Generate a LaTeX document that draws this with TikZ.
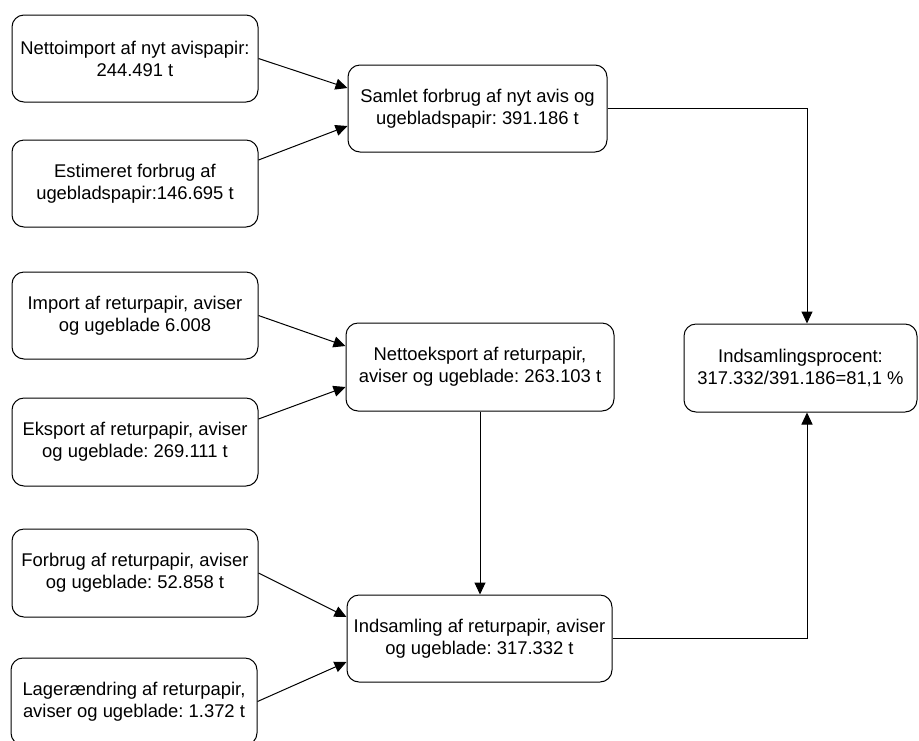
\documentclass[tikz,border=0pt]{standalone}
\usepackage{fontspec}
\setmainfont{Liberation Sans}
\usetikzlibrary{arrows.meta}
\frenchspacing
\begin{document}
\begin{tikzpicture}[x=1pt,y=-1pt,
  box/.style={draw=black,line width=1pt,rounded corners=12pt,align=center,inner sep=0pt,
    font=\fontsize{18.4}{22}\selectfont\frenchspacing,minimum height=87pt},
  arr/.style={draw=black,line width=1pt,-{Triangle[length=12pt,width=11pt]}}]
\useasboundingbox (0,0) rectangle (919,740);
\node[box,minimum width=246pt] (A) at (135,58.5) {Nettoimport af nyt avispapir:\\244.491 t};
\node[box,minimum width=246pt] (B) at (135,183.5) {Estimeret forbrug af\\ugebladspapir:146.695 t};
\node[box,minimum width=259pt] (S) at (477.5,108.5) {Samlet forbrug af nyt avis og\\ugebladspapir: 391.186 t};
\node[box,minimum width=246pt] (C) at (135,315.5) {Import af returpapir, aviser\\og ugeblade 6.008};
\node[box,minimum width=246pt,minimum height=88pt] (D) at (135,442) {Eksport af returpapir, aviser\\og ugeblade: 269.111 t};
\node[box,minimum width=268pt,minimum height=88pt] (N) at (480,367) {Nettoeksport af returpapir,\\aviser og ugeblade: 263.103 t};
\node[box,minimum width=246pt,minimum height=88pt] (E) at (135,573) {Forbrug af returpapir, aviser\\og ugeblade: 52.858 t};
\node[box,minimum width=246pt] (F) at (134,701.5) {Lagerændring af returpapir,\\aviser og ugeblade: 1.372 t};
\node[box,minimum width=265pt] (I) at (479.5,638.5) {Indsamling af returpapir, aviser\\og ugeblade: 317.332 t};
\node[box,minimum width=233pt,minimum height=88pt] (P) at (800.5,368) {Indsamlingsprocent:\\317.332/391.186=81,1 \%};
\draw[arr] (A.east) -- ([yshift=20.5pt]S.west);
\draw[arr] ([yshift=23.5pt]B.east) -- ([yshift=-17.5pt]S.west);
\draw[arr] (C.east) -- ([yshift=21pt]N.west);
\draw[arr] ([yshift=23pt]D.east) -- ([yshift=-20pt]N.west);
\draw[arr] (E.east) -- ([yshift=21.5pt]I.west);
\draw[arr] (F.east) -- ([yshift=-23.5pt]I.west);
\draw[arr] (S.east) -| ([xshift=6.5pt]P.north);
\draw[arr] (N.south) -- (N.south |- I.north);
\draw[arr] (I.east) -| ([xshift=6.5pt]P.south);
\end{tikzpicture}
\end{document}
